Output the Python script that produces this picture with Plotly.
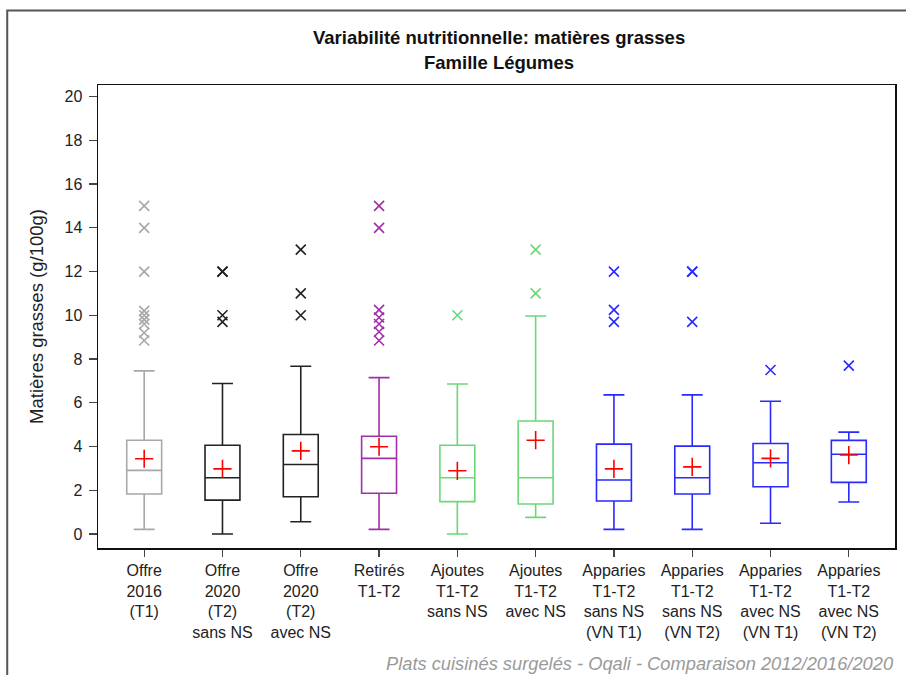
import plotly.graph_objects as go

categories = ["Offre<br>2016<br>(T1)", "Offre<br>2020<br>(T2)<br>sans NS", "Offre<br>2020<br>(T2)<br>avec NS",
              "Retirés<br>T1-T2", "Ajoutes<br>T1-T2<br>sans NS", "Ajoutes<br>T1-T2<br>avec NS",
              "Apparies<br>T1-T2<br>sans NS<br>(VN T1)", "Apparies<br>T1-T2<br>sans NS<br>(VN T2)",
              "Apparies<br>T1-T2<br>avec NS<br>(VN T1)", "Apparies<br>T1-T2<br>avec NS<br>(VN T2)"]
q1 = [1.83, 1.55, 1.70, 1.86, 1.48, 1.37, 1.51, 1.83, 2.16, 2.36]
median = [2.91, 2.57, 3.18, 3.46, 2.57, 2.57, 2.47, 2.57, 3.26, 3.65]
q3 = [4.29, 4.06, 4.55, 4.47, 4.06, 5.17, 4.11, 4.02, 4.14, 4.28]
lower = [0.21, 0.0, 0.56, 0.21, 0.0, 0.76, 0.21, 0.21, 0.49, 1.46]
upper = [7.46, 6.88, 7.67, 7.15, 6.86, 9.97, 6.36, 6.36, 6.07, 4.66]
means = [3.44, 2.98, 3.80, 3.99, 2.89, 4.29, 2.98, 3.07, 3.46, 3.61]
outliers = [
    [15, 14, 12, 10.2, 10.0, 9.8, 9.6, 9.2, 8.85],
    [12, 12, 10.0, 9.7],
    [13, 11, 10],
    [15, 14, 10.25, 9.9, 9.6, 9.25, 8.85],
    [10],
    [13, 11],
    [12, 10.25, 9.7],
    [12, 12, 9.7],
    [7.5],
    [7.7],
]
colors = ["#a8a8a8", "#222222", "#222222", "#a030a8", "#6ad87a", "#6ad87a",
          "#2a2aff", "#2a2aff", "#2a2aff", "#2a2aff"]
title1 = "Variabilité nutritionnelle: matières grasses"
title2 = "Famille Légumes"
ytitle = "Matières grasses (g/100g)"
footer = "Plats cuisinés surgelés - Oqali - Comparaison 2012/2016/2020"

fig = go.Figure()
for i in range(len(categories)):
    fig.add_trace(go.Box(
        x=[i], q1=[q1[i]], median=[median[i]], q3=[q3[i]],
        lowerfence=[lower[i]], upperfence=[upper[i]],
        boxpoints=False, width=0.446, whiskerwidth=0.6,
        line=dict(color=colors[i], width=1.6), fillcolor="white",
        showlegend=False, hoverinfo="skip"))
    fig.add_trace(go.Scatter(
        x=[i] * len(outliers[i]), y=outliers[i], mode="markers",
        marker=dict(symbol="x-thin", size=10, line=dict(color=colors[i], width=1.6)),
        showlegend=False, hoverinfo="skip"))
    fig.add_trace(go.Scatter(
        x=[i], y=[means[i]], mode="markers",
        marker=dict(symbol="cross-thin", size=13, line=dict(color="#ff0000", width=1.6)),
        showlegend=False, hoverinfo="skip"))

L, R, T, B = 98, 9, 85, 127
W, H = 906, 675
pw, ph = W - L - R, H - T - B

def px(x):
    return (x - L) / pw

def py(y):
    return (H - B - y) / ph

fig.update_layout(
    width=W, height=H,
    margin=dict(l=L, r=R, t=T, b=B),
    paper_bgcolor="white", plot_bgcolor="white",
    font=dict(family="Liberation Sans, Arial, sans-serif", color="#222222", size=16),
    xaxis=dict(range=[-0.59, 9.59], tickmode="array", tickvals=list(range(len(categories))),
               ticktext=categories, showgrid=False, zeroline=False,
               showline=True, linecolor="#111111", linewidth=1.5, mirror=True,
               ticks="outside", ticklen=7, tickcolor="#444444", tickwidth=1.2,
               tickfont=dict(size=16, color="#222222"), tickangle=0),
    yaxis=dict(range=[-0.64, 20.53], tickmode="array", tickvals=list(range(0, 21, 2)),
               showgrid=False, zeroline=False,
               showline=True, linecolor="#111111", linewidth=1.5, mirror=True,
               ticks="outside", ticklen=8, tickcolor="#444444", tickwidth=1.2,
               ticklabelstandoff=3,
               tickfont=dict(size=16, color="#222222"),
               title=dict(text=ytitle, font=dict(size=18.5, color="#222222"), standoff=16)),
    annotations=[
        dict(text="<b>" + title1 + "</b>", xref="paper", yref="paper", x=px(500), y=py(38),
             showarrow=False, xanchor="center", yanchor="middle",
             font=dict(family="Liberation Sans, Arial", size=18.5, color="#111111")),
        dict(text="<b>" + title2 + "</b>", xref="paper", yref="paper", x=px(500), y=py(62),
             showarrow=False, xanchor="center", yanchor="middle",
             font=dict(family="Liberation Sans, Arial", size=18.5, color="#111111")),
        dict(text="<i>" + footer + "</i>", xref="paper", yref="paper", x=px(898), y=py(663),
             showarrow=False, xanchor="right", yanchor="middle",
             font=dict(size=18.3, color="#9a9a9a")),
    ],
    shapes=[
        dict(type="path", xref="paper", yref="paper",
             path=f"M {px(7)} {py(680)} L {px(7)} {py(10.5)} L {px(910)} {py(10.5)}",
             line=dict(color="#555555", width=2)),
    ],
)

fig.write_html("out.html",
               config={"displayModeBar": False, "staticPlot": True},
               post_script="document.body.style.margin='0';document.body.style.padding='0';"
                           "document.body.style.overflow='hidden';"
                           "document.documentElement.style.overflow='hidden';")
